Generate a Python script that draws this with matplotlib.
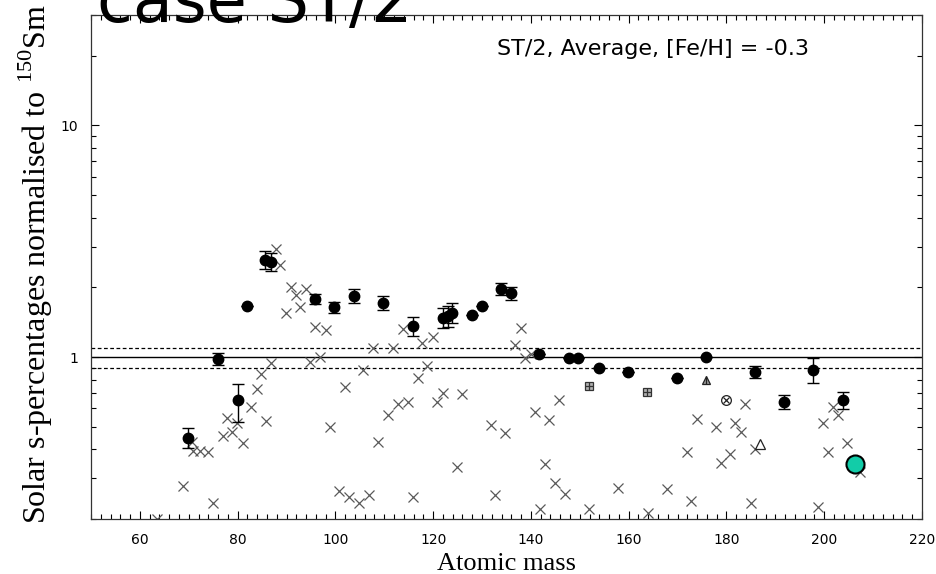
import matplotlib
matplotlib.use("Agg")
import matplotlib.pyplot as plt
import numpy as np
from matplotlib.ticker import MultipleLocator, LogLocator, NullFormatter, FixedLocator, FixedFormatter

# s-only isotopes (filled circles) with error bars given in dex
s_mass = [69.8, 76.0, 80.0, 82.0, 85.6, 86.8, 95.8, 99.7, 103.8, 109.7,
          115.9, 122.0, 123.0, 123.9, 127.9, 130.0, 133.9, 135.9, 141.7, 147.8,
          149.6, 153.9, 159.9, 169.9, 175.8, 185.8, 191.8, 197.7, 203.8]
s_ratio = [0.447, 0.98, 0.652, 1.66, 2.62, 2.57, 1.78, 1.64, 1.83, 1.71,
           1.36, 1.47, 1.50, 1.55, 1.52, 1.66, 1.97, 1.89, 1.03, 0.99,
           0.99, 0.90, 0.86, 0.81, 1.00, 0.86, 0.64, 0.88, 0.65]
s_err_lo = [0.043, 0.026, 0.095, 0.0, 0.039, 0.039, 0.022, 0.024, 0.030, 0.030,
            0.041, 0.043, 0.045, 0.043, 0.0, 0.0, 0.026, 0.028, 0.0, 0.0,
            0.0, 0.0, 0.0, 0.0, 0.0, 0.026, 0.032, 0.056, 0.035]
s_err_hi = [0.043, 0.026, 0.069, 0.0, 0.039, 0.039, 0.022, 0.024, 0.030, 0.030,
            0.041, 0.043, 0.045, 0.043, 0.0, 0.0, 0.026, 0.028, 0.0, 0.0,
            0.0, 0.0, 0.0, 0.0, 0.0, 0.026, 0.032, 0.052, 0.035]

# other isotopes (crosses)
x_mass = [63.5, 68.8, 70.7, 70.9, 72.3, 73.9, 75.0, 77.0, 77.8, 78.8,
          79.9, 81.1, 82.7, 84.0, 84.8, 85.8, 86.8, 87.8, 88.7, 89.9,
          90.9, 91.9, 92.8, 94.0, 94.8, 95.8, 96.8, 98.0, 98.9, 100.7,
          102.0, 102.8, 104.8, 105.6, 106.9, 107.7, 108.7, 110.8, 111.8, 112.8,
          113.8, 114.9, 115.9, 116.9, 117.7, 118.7, 120.0, 120.8, 122.0, 124.9,
          125.9, 131.8, 132.6, 134.7, 136.7, 138.0, 138.8, 140.0, 140.8, 141.9,
          142.9, 143.7, 144.9, 145.7, 147.0, 151.9, 157.8, 164.0, 167.8, 171.9,
          172.8, 174.0, 177.9, 178.9, 180.7, 181.8, 183.0, 183.8, 185.0, 185.8,
          198.7, 199.8, 200.8, 201.8, 202.8, 204.7, 207.3]
x_ratio = [0.20, 0.277, 0.43, 0.393, 0.393, 0.39, 0.234, 0.455, 0.545, 0.475,
           0.52, 0.425, 0.61, 0.73, 0.845, 0.53, 0.94, 2.93, 2.50, 1.55,
           2.00, 1.85, 1.64, 1.97, 0.95, 1.35, 1.00, 1.31, 0.50, 0.264,
           0.74, 0.25, 0.235, 0.88, 0.253, 1.10, 0.43, 0.56, 1.10, 0.63,
           1.32, 0.64, 0.25, 0.81, 1.15, 0.92, 1.22, 0.64, 0.70, 0.335,
           0.69, 0.51, 0.253, 0.47, 1.13, 1.33, 0.99, 1.03, 0.58, 0.222,
           0.345, 0.535, 0.286, 0.65, 0.256, 0.22, 0.272, 0.212, 0.27, 0.39,
           0.24, 0.54, 0.50, 0.35, 0.38, 0.52, 0.475, 0.63, 0.234, 0.40,
           0.225, 0.52, 0.39, 0.61, 0.56, 0.425, 0.32]

# special symbols
grid_mass = [151.9, 163.7]
grid_ratio = [0.75, 0.71]
tri_bar_mass = [175.8]
tri_bar_ratio = [0.80]
circ_x_mass = [179.9]
circ_x_ratio = [0.65]
tri_mass = [186.9]
tri_ratio = [0.42]
big_mass = [206.3]
big_ratio = [0.345]

band = [0.9, 1.0, 1.1]
x_ticks = [60, 80, 100, 120, 140, 160, 180, 200, 220]

plt.rcParams['font.family'] = ['DejaVu Sans']
plt.rcParams['mathtext.fontset'] = 'custom'
plt.rcParams['mathtext.rm'] = 'Liberation Serif'

fig = plt.figure(figsize=(9.36, 5.74), dpi=100)
ax = fig.add_axes([0.0972, 0.0958, 0.8878, 0.8781])
ax.set_yscale('log')
ax.set_xlim(50, 220)
ax.set_ylim(0.2, 30)

# reference lines
ax.axhline(band[1], color='black', lw=1.0, zorder=1)
ax.axhline(band[0], color='black', lw=0.9, ls=(0, (3, 2)), zorder=1)
ax.axhline(band[2], color='black', lw=0.9, ls=(0, (3, 2)), zorder=1)

ax.plot(x_mass, x_ratio, 'x', color='#5a5a5a', ms=7.5, mew=0.9, zorder=2)

s_ratio_a = np.array(s_ratio)
lo = s_ratio_a - s_ratio_a * 10 ** (-np.array(s_err_lo))
hi = s_ratio_a * 10 ** np.array(s_err_hi) - s_ratio_a
ax.errorbar(s_mass, s_ratio, yerr=[lo, hi], fmt='o', color='black', ms=7.5,
            elinewidth=1.0, capsize=4, capthick=1.0, zorder=3)

ax.plot(grid_mass, grid_ratio, 's', ms=6, mfc='#b0b0b0', mec='#333333', mew=0.9, zorder=3)
ax.plot(grid_mass, grid_ratio, '+', ms=6, color='#333333', mew=0.9, zorder=4)
ax.plot(tri_bar_mass, tri_bar_ratio, '^', ms=6, mfc='#999999', mec='#222222', mew=0.9, zorder=3)
ax.plot(tri_bar_mass, tri_bar_ratio, '|', ms=6, color='#222222', mew=0.9, zorder=4)
ax.plot(circ_x_mass, circ_x_ratio, 'o', ms=7, mfc='none', mec='#222222', mew=0.9, zorder=3)
ax.plot(circ_x_mass, circ_x_ratio, 'x', ms=5, color='#222222', mew=0.9, zorder=4)
ax.plot(tri_mass, tri_ratio, '^', ms=7, mfc='white', mec='#222222', mew=0.9, zorder=3)
ax.plot(big_mass, big_ratio, 'o', ms=13, mfc='#12cca8', mec='black', mew=1.5, zorder=5)

# ticks
ax.xaxis.set_major_locator(FixedLocator(x_ticks))
ax.xaxis.set_minor_locator(MultipleLocator(2))
ax.yaxis.set_major_locator(FixedLocator([1, 10]))
ax.yaxis.set_major_formatter(FixedFormatter(['1', '10']))
ax.yaxis.set_minor_locator(LogLocator(base=10, subs=np.arange(2, 10)))
ax.yaxis.set_minor_formatter(NullFormatter())
ax.tick_params(which='both', direction='in', top=True, right=True, labelsize=10)
ax.tick_params(which='major', length=6, width=0.8)
ax.tick_params(which='minor', length=3.5, width=0.8)
ax.tick_params(axis='x', pad=10)
ax.tick_params(axis='y', pad=9)
for sp in ax.spines.values():
    sp.set_linewidth(0.9)
    sp.set_color('#333333')

ax.set_xlabel('Atomic mass', family='Liberation Serif', fontsize=19, va='baseline')
ax.xaxis.set_label_coords(0.5, (519 - 570) / 504)
ax.set_ylabel('Solar s-percentages normalised to $^{150}$Sm', family='Liberation Serif', fontsize=23)
ax.yaxis.set_label_coords(-0.043, 0.505)

ax.text(0.489, 0.921, 'ST/2, Average, [Fe/H] = -0.3', transform=ax.transAxes,
        fontsize=16, va='baseline', ha='left')
# big heading, deliberately running off the top edge like the original
fig.text(0.1036, 1 - 22 / 574, 'case ST/2', fontsize=47, va='baseline', ha='left', zorder=10)

fig.savefig('out.png', dpi=100)
